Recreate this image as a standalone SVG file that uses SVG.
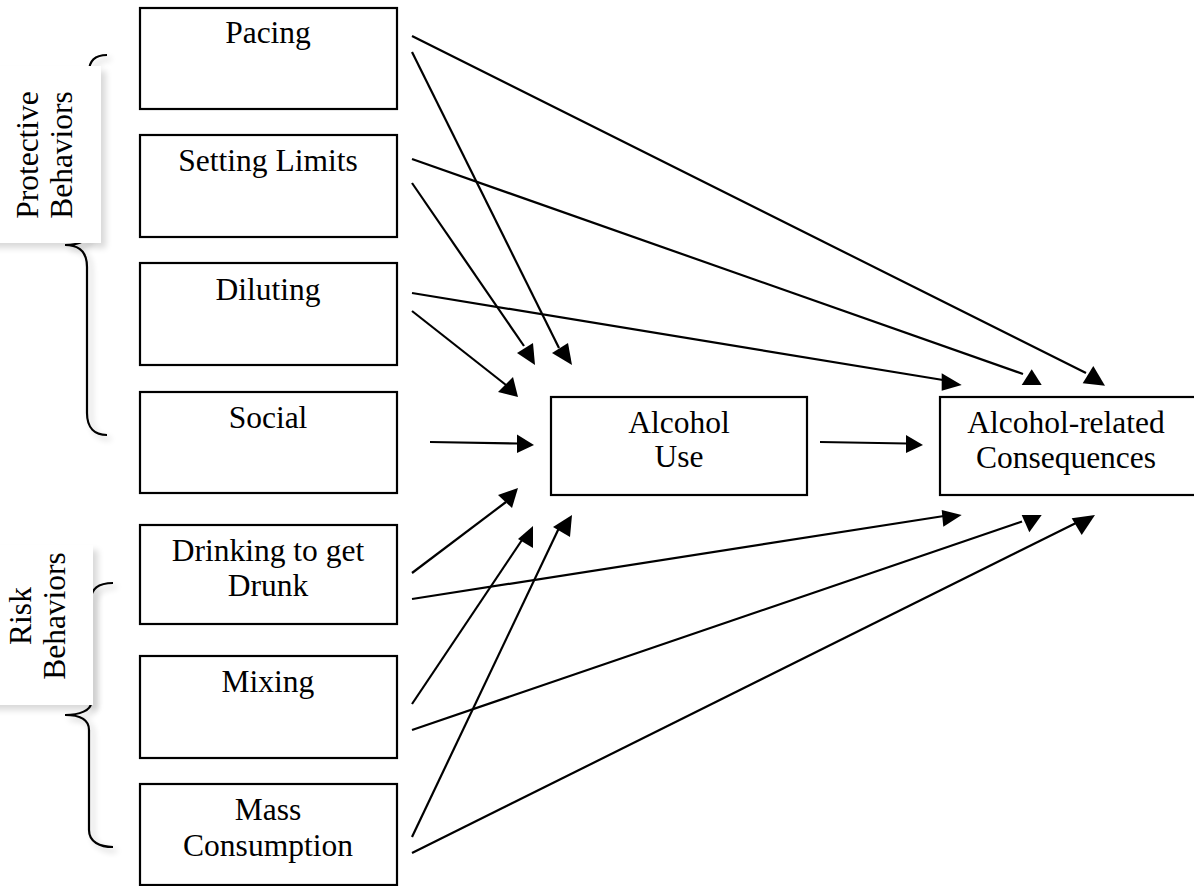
<svg xmlns="http://www.w3.org/2000/svg" width="1194" height="886" viewBox="0 0 1194 886">
<defs>
<filter id="sh" x="-20%" y="-10%" width="160%" height="130%">
<feGaussianBlur in="SourceAlpha" stdDeviation="3"/>
<feOffset dx="4" dy="4" result="b"/>
<feComponentTransfer><feFuncA type="linear" slope="0.22"/></feComponentTransfer>
<feMerge><feMergeNode/><feMergeNode in="SourceGraphic"/></feMerge>
</filter>
<filter id="shb" x="-20%" y="-10%" width="160%" height="130%">
<feGaussianBlur in="SourceAlpha" stdDeviation="3"/>
<feOffset dx="5" dy="5" result="b"/>
<feComponentTransfer><feFuncA type="linear" slope="0.15"/></feComponentTransfer>
<feMerge><feMergeNode/><feMergeNode in="SourceGraphic"/></feMerge>
</filter>
</defs>
<style>
.box{fill:#fff;stroke:#000;stroke-width:2.2}
.t{font-family:"Liberation Serif","Times New Roman",serif;font-size:31.5px;fill:#000;text-anchor:middle}
.l{stroke:#000;stroke-width:2.2;fill:none}
.h{fill:#000;stroke:none}
.br{fill:none;stroke:#000;stroke-width:2.2}
</style>
<rect width="1194" height="886" fill="#fff"/>

<g id="protective-label">
<path class="br" filter="url(#sh)" d="M107,55 C95,55 89,61 89,72 L89,230 C89,240 80,245 65,245 C80,245 87,252 87,267 L87,413 C87,428 95,435 107,435"/>
<rect x="-20" y="66" width="121" height="177" fill="#fff" filter="url(#shb)"/>
<g transform="translate(38,155) rotate(-90)"><text class="t" x="0" y="0">Protective</text></g>
<g transform="translate(72,155) rotate(-90)"><text class="t" x="0" y="0">Behaviors</text></g>
</g>

<g id="risk-label">
<path class="br" filter="url(#sh)" d="M113,583 C100,583 91,588 91,600 L91,703 C91,710 80,715 65,715 C80,715 89,720 89,730 L89,830 C89,842 100,847 113,847"/>
<rect x="-20" y="545" width="113" height="160" fill="#fff" filter="url(#shb)"/>
<g transform="translate(31,616) rotate(-90)"><text class="t" x="0" y="0">Risk</text></g>
<g transform="translate(65,616) rotate(-90)"><text class="t" x="0" y="0">Behaviors</text></g>
</g>

<g id="pacing"><rect class="box" x="140" y="8" width="257" height="101"/><text class="t" x="268" y="43">Pacing</text></g>
<g id="setting-limits"><rect class="box" x="140" y="135" width="257" height="102"/><text class="t" x="268" y="171">Setting Limits</text></g>
<g id="diluting"><rect class="box" x="140" y="263" width="257" height="102"/><text class="t" x="268" y="300">Diluting</text></g>
<g id="social"><rect class="box" x="140" y="392" width="257" height="101"/><text class="t" x="268" y="428">Social</text></g>
<g id="drinking-to-get-drunk"><rect class="box" x="140" y="525" width="257" height="99"/><text class="t" x="268" y="561">Drinking to get</text><text class="t" x="268" y="596">Drunk</text></g>
<g id="mixing"><rect class="box" x="140" y="656" width="257" height="102"/><text class="t" x="268" y="692">Mixing</text></g>
<g id="mass-consumption"><rect class="box" x="140" y="784" width="257" height="101"/><text class="t" x="268" y="820">Mass</text><text class="t" x="268" y="856">Consumption</text></g>
<g id="alcohol-use"><rect class="box" x="551" y="397" width="256" height="98"/><text class="t" x="679" y="433">Alcohol</text><text class="t" x="679" y="467">Use</text></g>
<g id="consequences"><rect class="box" x="940" y="397" width="256" height="98"/><text class="t" x="1066" y="433">Alcohol-related</text><text class="t" x="1066" y="468">Consequences</text></g>

<g id="connectors">
<line class="l" x1="412" y1="52" x2="559" y2="348"/>
<polygon class="h" points="552,353 568,343 572,365"/>
<line class="l" x1="412" y1="183" x2="524" y2="346"/>
<polygon class="h" points="517,353 533,343 535,365"/>
<line class="l" x1="412" y1="311" x2="506" y2="385"/>
<polygon class="h" points="498,392 513,377 518,397"/>
<line class="l" x1="430" y1="442" x2="518" y2="443.5"/>
<polygon class="h" points="517,434.5 534,445 517,453"/>
<line class="l" x1="412" y1="573" x2="506" y2="502"/>
<polygon class="h" points="498,495 518,488 512,508"/>
<line class="l" x1="412" y1="704" x2="522" y2="540"/>
<polygon class="h" points="518,539 533,526 533,548"/>
<line class="l" x1="412" y1="837" x2="559" y2="528"/>
<polygon class="h" points="553,527 572,515 570,537"/>

<line class="l" x1="412" y1="36" x2="1086" y2="373"/>
<polygon class="h" points="1082.7,383.3 1093.3,366 1105,385.7"/>
<line class="l" x1="412" y1="159" x2="1023" y2="374"/>
<polygon class="h" points="1021.7,385 1031.7,369.3 1041.7,385"/>
<line class="l" x1="412" y1="293" x2="943" y2="380"/>
<polygon class="h" points="941.7,373.3 961.7,385 941.7,390.7"/>
<line class="l" x1="820" y1="442" x2="907" y2="443.5"/>
<polygon class="h" points="906,435 923,445 906,453"/>
<line class="l" x1="412" y1="599" x2="944" y2="516"/>
<polygon class="h" points="941.7,510 961.7,515 943.3,526.7"/>
<line class="l" x1="412" y1="730" x2="1022" y2="521.5"/>
<polygon class="h" points="1021.7,515 1041.7,515 1029.3,532.3"/>
<line class="l" x1="412" y1="853" x2="1077" y2="522.5"/>
<polygon class="h" points="1071.7,518.3 1095,515 1081.7,535"/>
</g>
</svg>
